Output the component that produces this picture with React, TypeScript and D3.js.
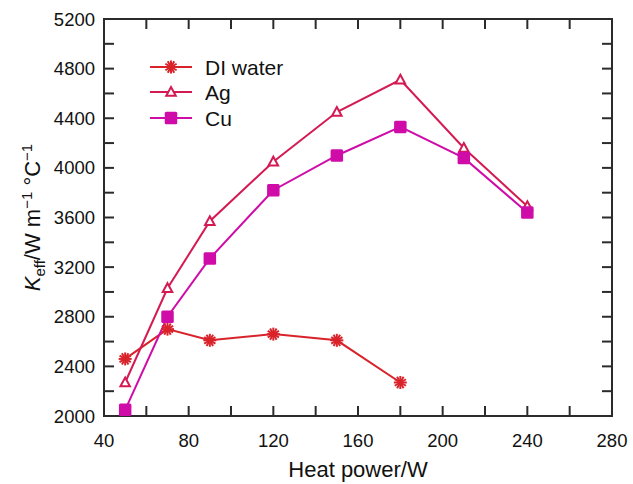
import * as d3 from "d3";
import React, { useEffect, useRef } from "react";

const xTicks = [40, 80, 120, 160, 200, 240, 280];
const yTicks = [2000, 2400, 2800, 3200, 3600, 4000, 4400, 4800, 5200];

const waterX = [50, 70, 90, 120, 150, 180];
const waterY = [2460, 2700, 2610, 2660, 2610, 2270];

const agX = [50, 70, 90, 120, 150, 180, 210, 240];
const agY = [2270, 3030, 3570, 4050, 4450, 4710, 4160, 3690];

const cuX = [50, 70, 90, 120, 150, 180, 210, 240];
const cuY = [2050, 2800, 3270, 3820, 4100, 4330, 4080, 3640];

const seriesNames = ["DI water", "Ag", "Cu"];

const App = () => {
  const svgRef = useRef<SVGSVGElement>(null);

  useEffect(() => {
    document.body.style.margin = "0";
    document.body.style.overflow = "hidden";

    const width = 633;
    const height = 484;
    const margin = { top: 19, right: 21, bottom: 68, left: 104 };

    d3.select(svgRef.current).selectAll("*").remove();
    const svg = d3.select(svgRef.current).attr("width", width).attr("height", height);

    const x = d3.scaleLinear().domain([40, 280]).range([margin.left, width - margin.right]);
    const y = d3.scaleLinear().domain([2000, 5200]).range([height - margin.bottom, margin.top]);

    const font = "'Liberation Sans', Arial, Helvetica, sans-serif";
    const axisColor = "#2b2b2b";

    // inward ticks on all four sides
    const tickLen = 10;
    const g = svg.append("g").attr("stroke", axisColor).attr("stroke-width", 2);
    d3.range(40, 281, 20).forEach(v => {
      g.append("line").attr("x1", x(v)).attr("x2", x(v))
        .attr("y1", y(2000)).attr("y2", y(2000) - tickLen);
      g.append("line").attr("x1", x(v)).attr("x2", x(v))
        .attr("y1", y(5200)).attr("y2", y(5200) + tickLen);
    });
    d3.range(2000, 5201, 200).forEach(v => {
      g.append("line").attr("x1", x(40)).attr("x2", x(40) + tickLen)
        .attr("y1", y(v)).attr("y2", y(v));
      g.append("line").attr("x1", x(280)).attr("x2", x(280) - tickLen)
        .attr("y1", y(v)).attr("y2", y(v));
    });
    svg.append("rect")
      .attr("x", x(40)).attr("y", y(5200))
      .attr("width", x(280) - x(40)).attr("height", y(2000) - y(5200))
      .attr("fill", "none").attr("stroke", axisColor).attr("stroke-width", 2);

    // tick labels
    svg.selectAll(".xl").data(xTicks).enter().append("text")
      .attr("x", d => x(d)).attr("y", y(2000) + 31)
      .attr("text-anchor", "middle").attr("font-family", font).attr("font-size", 18.5)
      .attr("fill", "#111").text(d => d);
    svg.selectAll(".yl").data(yTicks).enter().append("text")
      .attr("x", x(40) - 9).attr("y", d => y(d) + 6.5)
      .attr("text-anchor", "end").attr("font-family", font).attr("font-size", 18.5)
      .attr("fill", "#111").text(d => d);

    // axis titles
    svg.append("text")
      .attr("x", (x(40) + x(280)) / 2).attr("y", 477)
      .attr("text-anchor", "middle").attr("font-family", font).attr("font-size", 22)
      .attr("fill", "#111").text("Heat power/W");

    const yt = svg.append("text")
      .attr("transform", `translate(40,${(y(2000) + y(5200)) / 2}) rotate(-90)`)
      .attr("text-anchor", "middle").attr("font-family", font).attr("font-size", 22)
      .attr("fill", "#111");
    yt.append("tspan").attr("font-style", "italic").text("K");
    yt.append("tspan").attr("font-size", 15).attr("dy", 5).text("eff");
    yt.append("tspan").attr("dy", -5).text("/W m");
    yt.append("tspan").attr("font-size", 15).attr("dy", -8).text("−1");
    yt.append("tspan").attr("dy", 8).text(" °C");
    yt.append("tspan").attr("font-size", 15).attr("dy", -8).text("−1");

    const colors = ["#d9232b", "#d41a52", "#cf0ca8"];
    const series = [
      { xs: waterX, ys: waterY, color: colors[0], marker: "star" },
      { xs: agX, ys: agY, color: colors[1], marker: "tri" },
      { xs: cuX, ys: cuY, color: colors[2], marker: "sq" },
    ];

    const drawMarker = (sel, kind, color, cx, cy) => {
      if (kind === "star") {
        const r = 6.5;
        d3.range(6).forEach(i => {
          const a = (Math.PI / 6) * i + Math.PI / 2;
          sel.append("line")
            .attr("x1", cx + r * Math.cos(a)).attr("y1", cy + r * Math.sin(a))
            .attr("x2", cx - r * Math.cos(a)).attr("y2", cy - r * Math.sin(a))
            .attr("stroke", color).attr("stroke-width", 2);
        });
      } else if (kind === "tri") {
        const s = 5;
        sel.append("path")
          .attr("d", `M${cx},${cy - s}L${cx + s * 0.95},${cy + s * 0.75}L${cx - s * 0.95},${cy + s * 0.75}Z`)
          .attr("fill", "white").attr("stroke", color).attr("stroke-width", 2);
      } else {
        const s = 12.5;
        sel.append("rect")
          .attr("x", cx - s / 2).attr("y", cy - s / 2).attr("width", s).attr("height", s)
          .attr("rx", 1.5).attr("fill", color);
      }
    };

    const line = d3.line<[number, number]>().x(d => x(d[0])).y(d => y(d[1]));

    series.forEach(s => {
      const pts = s.xs.map((v, i) => [v, s.ys[i]] as [number, number]);
      svg.append("path").datum(pts)
        .attr("d", line).attr("fill", "none")
        .attr("stroke", s.color).attr("stroke-width", 2);
    });
    series.forEach(s => {
      const gm = svg.append("g");
      s.xs.forEach((v, i) => drawMarker(gm, s.marker, s.color, x(v), y(s.ys[i])));
    });

    // legend
    const legY = [67, 92, 118];
    series.forEach((s, i) => {
      const lg = svg.append("g");
      lg.append("line").attr("x1", 150).attr("x2", 192)
        .attr("y1", legY[i]).attr("y2", legY[i])
        .attr("stroke", s.color).attr("stroke-width", 2);
      drawMarker(lg, s.marker, s.color, 171, legY[i]);
      lg.append("text").attr("x", 205).attr("y", legY[i] + 7.5)
        .attr("font-family", font).attr("font-size", 21).attr("fill", "#111")
        .text(seriesNames[i]);
    });
  }, []);

  return (
    <div>
      <svg ref={svgRef} style={{ display: "block" }} />
    </div>
  );
};

export default App;
